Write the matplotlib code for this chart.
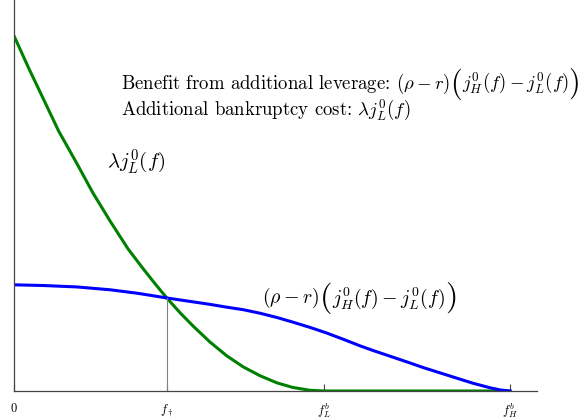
import matplotlib.pyplot as plt
from matplotlib.offsetbox import TextArea, HPacker, AnnotationBbox

plt.rcParams['mathtext.fontset'] = 'cm'
plt.rcParams['font.family'] = 'cmr10'
plt.rcParams['axes.formatter.use_mathtext'] = True

# bankruptcy cost curve  lambda j_L^0(f)
cost_x = [0.0, 0.03, 0.058, 0.09, 0.127, 0.159, 0.194, 0.23, 0.260, 0.285,
          0.308, 0.335, 0.361, 0.395, 0.429, 0.462, 0.496, 0.530, 0.562,
          0.597, 0.625, 1.0]
cost_y = [1.0, 0.908, 0.826, 0.732, 0.640, 0.558, 0.478, 0.400, 0.345,
          0.301, 0.262, 0.220, 0.183, 0.138, 0.099, 0.068, 0.043, 0.023,
          0.010, 0.002, 0.0, 0.0]

# benefit curve  (rho - r)(j_H^0 - j_L^0)
ben_x = [0.0, 0.06, 0.127, 0.194, 0.25, 0.308, 0.361, 0.395, 0.429, 0.462,
         0.496, 0.530, 0.562, 0.597, 0.631, 0.665, 0.698, 0.724, 0.758,
         0.792, 0.825, 0.859, 0.893, 0.925, 0.960, 0.98, 1.0]
ben_y = [0.299, 0.297, 0.293, 0.285, 0.275, 0.262, 0.251, 0.244, 0.236,
         0.229, 0.219, 0.207, 0.194, 0.179, 0.163, 0.145, 0.127, 0.114,
         0.098, 0.082, 0.066, 0.051, 0.036, 0.022, 0.009, 0.003, 0.0]

tick_pos = [0.0, 0.308, 0.625, 1.0]
tick_lab = ['$0$', r'$f_\dagger$', '$f_L^b$', '$f_H^b$']
f_dag, cross_y = 0.308, 0.262


def big_paren_formula(ax, x, y, head, inner, size):
    # "head ( inner )" with enlarged parentheses, like \Big( ... \Big)
    kids = [TextArea(head, textprops=dict(fontsize=size)),
            TextArea('$($', textprops=dict(fontsize=size * 1.6)),
            TextArea(inner, textprops=dict(fontsize=size)),
            TextArea('$)$', textprops=dict(fontsize=size * 1.6))]
    box = HPacker(children=kids, align='center', pad=0, sep=0)
    ab = AnnotationBbox(box, (x, y), xycoords='data', box_alignment=(0, 0.5),
                        frameon=False, pad=0, annotation_clip=False)
    ax.add_artist(ab)


fig = plt.figure(figsize=(5.82, 4.20), dpi=100)
ax = fig.add_axes([14/582, 29/420, 523/582, 391/420])

ax.plot(cost_x, cost_y, color='#008000', lw=2.2)
ax.plot(ben_x, ben_y, color='#0000ff', lw=2.2)
ax.plot([f_dag, f_dag], [0, cross_y], color='gray', lw=0.8)

ax.set_xlim(0, 1.0544)
ax.set_ylim(0, 1.101)
ax.spines['top'].set_visible(False)
ax.spines['right'].set_visible(False)
for s in ('left', 'bottom'):
    ax.spines[s].set_color('#444444')
    ax.spines[s].set_linewidth(0.9)
ax.set_yticks([])
ax.set_xticks(tick_pos)
ax.set_xticklabels(tick_lab, fontsize=9)
ax.tick_params(axis='x', direction='in', length=5, color='#444444', pad=8)

big_paren_formula(ax, 0.215, 0.865,
                  r'Benefit from additional leverage: $(\rho-r)$',
                  r'$j_H^0(f)-j_L^0(f)$', 13.5)
ax.text(0.215, 0.79, r'Additional bankruptcy cost: $\lambda j_L^0(f)$',
        fontsize=13.5, ha='left', va='center')
ax.text(0.1875, 0.645, r'$\lambda j_L^0(f)$', fontsize=15,
        ha='left', va='center')
big_paren_formula(ax, 0.5, 0.262, r'$(\rho-r)$', r'$j_H^0(f)-j_L^0(f)$', 14.3)

fig.savefig('out.png', dpi=100)
